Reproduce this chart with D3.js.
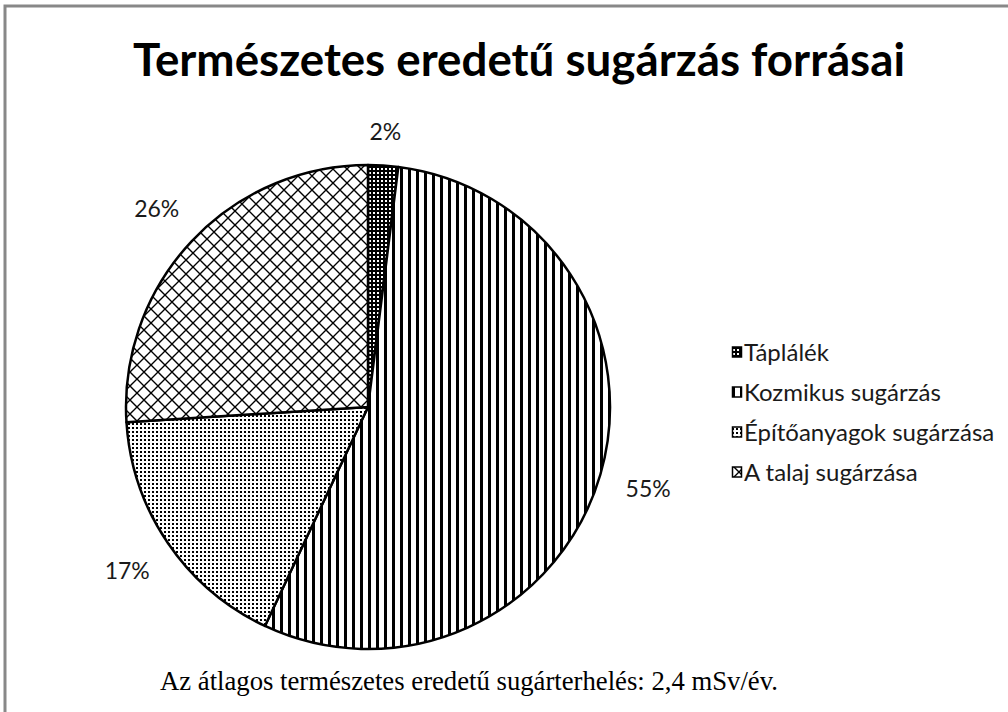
<!DOCTYPE html>
<html lang="hu">
<head>
<meta charset="utf-8">
<title>Természetes eredetű sugárzás forrásai</title>
<script src="https://d3js.org/d3.v7.min.js"></script>
<style>
body { margin: 0; background: #fff; }
</style>
</head>
<body>
<div id="chart"></div>
<script>
// chart data
var categories = ["Táplálék", "Kozmikus sugárzás", "Építőanyagok sugárzása", "A talaj sugárzása"];
var values = [2, 55, 17, 26];
var patternIds = ["p-food", "p-cosmic", "p-build", "p-soil"];
var titleText = "Természetes eredetű sugárzás forrásai";
var noteText = "Az átlagos természetes eredetű sugárterhelés: 2,4 mSv/év.";

var width = 1008, height = 712;
var cx = 368, cy = 407, radius = 242;

var svg = d3.select("#chart")
  .append("svg")
  .attr("width", width)
  .attr("height", height);

var defs = svg.append("defs");

// dense grid (Táplálék)
var pf = defs.append("pattern").attr("id", "p-food")
  .attr("patternUnits", "userSpaceOnUse").attr("width", 4).attr("height", 4);
pf.append("rect").attr("width", 4).attr("height", 4).attr("fill", "#000");
pf.append("rect").attr("x", 1).attr("y", 1).attr("width", 2).attr("height", 2).attr("fill", "#fff");

// wide vertical stripes (Kozmikus)
var pc = defs.append("pattern").attr("id", "p-cosmic")
  .attr("patternUnits", "userSpaceOnUse").attr("width", 8).attr("height", 8);
pc.append("rect").attr("width", 8).attr("height", 8).attr("fill", "#fff");
pc.append("rect").attr("width", 3).attr("height", 8).attr("fill", "#000");

// small dots (Építőanyagok)
var pb = defs.append("pattern").attr("id", "p-build")
  .attr("patternUnits", "userSpaceOnUse").attr("width", 4).attr("height", 4);
pb.append("rect").attr("width", 4).attr("height", 4).attr("fill", "#fff");
pb.append("rect").attr("width", 2).attr("height", 2).attr("fill", "#000");

// diamond lattice (Talaj)
var ps = defs.append("pattern").attr("id", "p-soil")
  .attr("patternUnits", "userSpaceOnUse").attr("width", 14).attr("height", 14);
ps.append("rect").attr("width", 14).attr("height", 14).attr("fill", "#fff");
ps.append("path")
  .attr("d", "M0,7 L7,0 L14,7 L7,14 Z")
  .attr("fill", "none")
  .attr("stroke", "#000")
  .attr("stroke-width", 1.4);

// outer frame
svg.append("rect")
  .attr("x", 5).attr("y", 6)
  .attr("width", width + 10).attr("height", height + 10)
  .attr("fill", "#fff")
  .attr("stroke", "#888")
  .attr("stroke-width", 3);

// title
svg.append("text")
  .attr("x", 519)
  .attr("y", 76)
  .attr("text-anchor", "middle")
  .attr("textLength", 772)
  .attr("lengthAdjust", "spacingAndGlyphs")
  .style("font-family", "Lato, 'Open Sans', sans-serif")
  .style("font-weight", "bold")
  .style("font-size", "46px")
  .text(titleText);

var total = d3.sum(values);
var pie = d3.pie().sort(null).value(function(d) { return d; });
var arcs = pie(values);

var arc = d3.arc().innerRadius(0).outerRadius(radius);

var g = svg.append("g").attr("transform", "translate(" + cx + "," + cy + ")");

g.selectAll("path.slice")
  .data(arcs)
  .enter()
  .append("path")
  .attr("class", "slice")
  .attr("d", arc)
  .attr("fill", function(d, i) { return "url(#" + patternIds[i] + ")"; })
  .attr("stroke", "#000")
  .attr("stroke-width", 2.5)
  .attr("stroke-linejoin", "round");

// percentage labels outside the pie
var labelSize = 23, labelW = 52, labelH = 20;
g.selectAll("text.pct")
  .data(arcs)
  .enter()
  .append("text")
  .attr("class", "pct")
  .attr("transform", function(d) {
    var a = (d.startAngle + d.endAngle) / 2;
    var s = Math.sin(a), c = Math.cos(a);
    var r = radius + 22 + Math.abs(s) * labelW / 2 + Math.abs(c) * labelH / 2;
    return "translate(" + (r * s) + "," + (-r * c) + ")";
  })
  .attr("text-anchor", "middle")
  .attr("dy", "0.36em")
  .style("font-family", "Lato, 'Open Sans', sans-serif")
  .style("font-size", labelSize + "px")
  .style("fill", "#1a1a1a")
  .text(function(d) { return Math.round(d.value / total * 100) + "%"; });

// legend
var legend = svg.append("g").attr("transform", "translate(732,352)");
var items = legend.selectAll("g.item")
  .data(categories)
  .enter()
  .append("g")
  .attr("class", "item")
  .attr("transform", function(d, i) { return "translate(0," + (i * 40) + ")"; });

items.append("rect")
  .attr("x", 0.5).attr("y", -5)
  .attr("width", 9).attr("height", 10)
  .attr("fill", function(d, i) { return "url(#" + patternIds[i] + ")"; })
  .attr("stroke", "#000")
  .attr("stroke-width", 1.5);

items.append("text")
  .attr("x", 12)
  .attr("dy", "0.36em")
  .style("font-family", "Lato, 'Open Sans', sans-serif")
  .style("font-size", "24px")
  .style("fill", "#1a1a1a")
  .text(function(d) { return d; });

// note under the chart
svg.append("rect")
  .attr("x", 40).attr("y", 652)
  .attr("width", 885).attr("height", 60)
  .attr("fill", "#fff");

svg.append("text")
  .attr("x", 160)
  .attr("y", 690)
  .attr("textLength", 618)
  .attr("lengthAdjust", "spacingAndGlyphs")
  .style("font-family", "'Liberation Serif', 'Times New Roman', serif")
  .style("font-size", "28px")
  .style("fill", "#000")
  .text(noteText);
</script>
</body>
</html>
